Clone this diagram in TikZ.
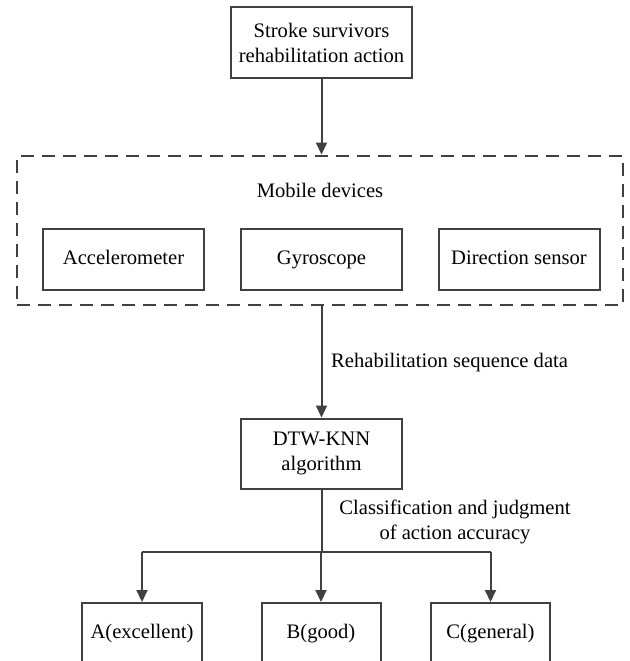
\documentclass[tikz,border=0pt]{standalone}
\usepackage{fontspec}
\setmainfont{Liberation Serif}
\usetikzlibrary{positioning,arrows.meta,calc}
\definecolor{linegray}{HTML}{404040}
\tikzset{
  flowarrow/.style={-{Triangle[length=12pt, width=11pt]}, line width=2pt, linegray},
  flowline/.style={line width=2pt, linegray},
  stepbox/.style={draw=linegray, line width=2pt, minimum height=61pt, inner sep=0pt, align=center},
  groupbox/.style={draw=linegray, line width=2pt, dash pattern=on 13pt off 8pt, inner sep=0pt},
  edgelabel/.style={inner sep=0pt, align=center}
}

\begin{document}
\begin{tikzpicture}[x=1pt, y=1pt, every node/.style={font=\rmfamily\fontsize{20.6}{25}\selectfont, text=black}]
      \useasboundingbox (0,0) rectangle (629,-661);
      \node[stepbox, minimum width=181pt, minimum height=71pt] (stroke) at (321.5,-42.5) {Stroke survivors\\rehabilitation action};
      \node[groupbox, minimum width=606pt, minimum height=149pt] (mobile) at (320,-230) {};
      \node[edgelabel] (mobiletitle) at (320,-190) {Mobile devices};
      \node[stepbox, minimum width=161pt, text height=14pt, text depth=4pt] (accel) at (123.5,-259.5) {Accelerometer};
      \node[stepbox, minimum width=161pt, text height=14pt, text depth=4pt] (gyro) at (321.5,-259.5) {Gyroscope};
      \node[stepbox, minimum width=161pt, text height=14pt, text depth=4pt] (direction) at (519,-259.5) {Direction sensor};
      \node[stepbox, minimum width=161pt, minimum height=70pt] (dtw) at (321.5,-453.5) {DTW-KNN\\algorithm};
      \node[stepbox, minimum width=120pt, minimum height=60pt, text height=14pt, text depth=4pt] (gradea) at (142,-633) {A(excellent)};
      \node[stepbox, minimum width=119pt, minimum height=60pt, text height=14pt, text depth=4pt] (gradeb) at (321,-633) {B(good)};
      \node[stepbox, minimum width=119pt, minimum height=60pt, text height=14pt, text depth=4pt] (gradec) at (490.5,-633) {C(general)};
      \coordinate (split) at (321.5,-552);
      \draw[flowarrow] (stroke.south) -- (stroke.south |- mobile.north);
      \draw[flowarrow] (dtw.north |- mobile.south) -- (dtw.north);
      \node[edgelabel, anchor=west] (seqlabel) at (331,-363) {Rehabilitation sequence data};
      \draw[flowline] (dtw.south) -- (split);
      \draw[flowline] (gradea.north |- split) -- (gradec.north |- split);
      \node[edgelabel] (classlabel) at (455,-522) {Classification and judgment\\of action accuracy};
      \draw[flowarrow] (gradea.north |- split) -- (gradea.north);
      \draw[flowarrow] (gradeb.north |- split) -- (gradeb.north);
      \draw[flowarrow] (gradec.north |- split) -- (gradec.north);
    \end{tikzpicture}
\end{document}
